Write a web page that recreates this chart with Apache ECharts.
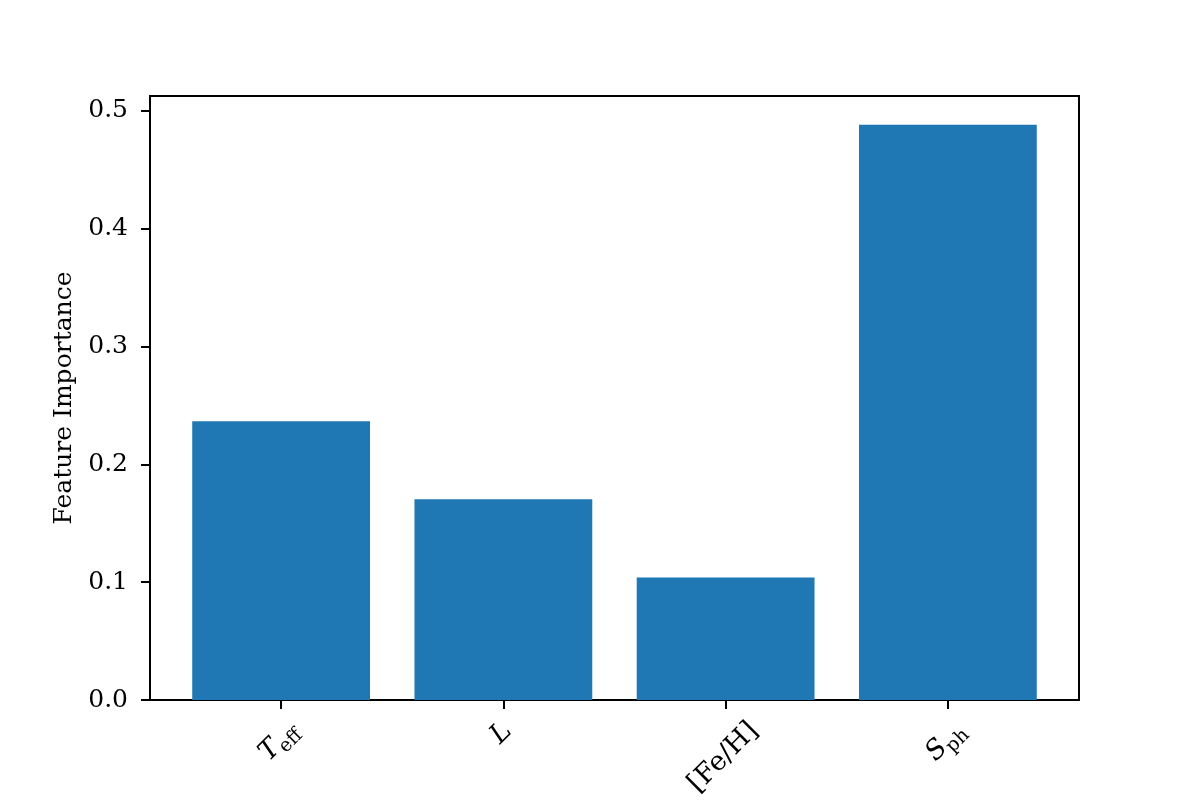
<!DOCTYPE html>
<html>
<head>
<meta charset="utf-8">
<script src="https://cdn.jsdelivr.net/npm/echarts@6/dist/echarts.min.js"></script>
<style>
  html, body { margin: 0; background: #fff; }
  #chart { width: 1200px; height: 800px; }
</style>
</head>
<body>
<div id="chart"></div>
<script>
// features (main symbol + subscript) and their importance
const featureMain = ['T', 'L', '[Fe/H]', 'S']
const featureSub = ['eff', '', '', 'ph']
const featureItalic = [true, true, false, true]
const featurePos = [0, 1, 2, 3]
const importance = [0.2365, 0.1703, 0.1040, 0.4880]
const yTicks = [0, 0.1, 0.2, 0.3, 0.4, 0.5]

const xMin = -0.59, xMax = 3.59
const yMin = 0, yMax = 0.5125

const gridLeft = 150, gridRight = 121, gridTop = 96, gridBottom = 100
const plotWidth = 1200 - gridLeft - gridRight
const barWidth = plotWidth / (xMax - xMin) * 0.8

const serif = '"DejaVu Serif", "Liberation Serif", serif'
const mainSize = 27, subSize = 19

// measure label text so rotated labels can be centred under the tick (like mpl ha=center)
const ctx = document.createElement('canvas').getContext('2d')
function textWidth(str, size, italic) {
  ctx.font = (italic ? 'italic ' : '') + size + 'px ' + serif
  return ctx.measureText(str).width
}

const rich = {
  it: { fontFamily: serif, fontSize: mainSize, fontStyle: 'italic', color: '#000', lineHeight: 29, padding: [0, 0, 6, 0] },
  rm: { fontFamily: serif, fontSize: mainSize, color: '#000', lineHeight: 29, padding: [0, 0, 6, 0] },
  sub: { fontFamily: serif, fontSize: subSize, color: '#000', lineHeight: 20, verticalAlign: 'bottom' }
}
featureMain.forEach((m, i) => {
  const len = textWidth(m, mainSize, featureItalic[i]) + (featureSub[i] ? textWidth(featureSub[i], subSize, false) : 0)
  const shift = Math.round((len + 26) / 2)
  rich['gv' + i] = { fontSize: 2, width: 1, height: shift, lineHeight: shift }
  rich['gh' + i] = { fontSize: 2, width: shift, height: 2, lineHeight: 2 }
})

function xLabel(value) {
  const i = featurePos.indexOf(Math.round(value))
  if (i < 0) return ''
  let s = '{gv' + i + '| }\n{' + (featureItalic[i] ? 'it' : 'rm') + '|' + featureMain[i] + '}'
  if (featureSub[i]) s += '{sub|' + featureSub[i] + '}'
  return s + '{gh' + i + '| }'
}

const chart = echarts.init(document.getElementById('chart'))
chart.setOption({
  backgroundColor: '#fff',
  animation: false,
  grid: {
    left: gridLeft, right: gridRight, top: gridTop, bottom: gridBottom,
    outerBoundsMode: 'none',
    containLabel: false,
    show: true, borderColor: '#000', borderWidth: 2, backgroundColor: 'transparent'
  },
  xAxis: {
    type: 'value',
    min: xMin,
    max: xMax,
    splitLine: { show: false },
    axisLine: { show: true, onZero: false, lineStyle: { color: '#000', width: 2 } },
    axisTick: { customValues: featurePos, length: 9, lineStyle: { color: '#000', width: 2 } },
    axisLabel: {
      customValues: featurePos,
      rotate: 45,
      align: 'center',
      verticalAlign: 'middle',
      margin: 20,
      formatter: xLabel,
      rich: rich
    }
  },
  yAxis: {
    type: 'value',
    min: yMin,
    max: yMax,
    name: 'Feature Importance',
    nameLocation: 'middle',
    nameGap: 73,
    nameTextStyle: { fontFamily: serif, fontSize: 25, color: '#000' },
    splitLine: { show: false },
    axisLine: { show: true, onZero: false, lineStyle: { color: '#000', width: 2 } },
    axisTick: { customValues: yTicks, length: 9, lineStyle: { color: '#000', width: 2 } },
    axisLabel: {
      customValues: yTicks,
      margin: 22,
      fontFamily: serif,
      fontSize: 25,
      color: '#000',
      formatter: v => v.toFixed(1)
    }
  },
  series: [{
    type: 'bar',
    data: featurePos.map((x, i) => [x, importance[i]]),
    barWidth: barWidth,
    itemStyle: { color: '#1f77b4' }
  }]
})
</script>
</body>
</html>
